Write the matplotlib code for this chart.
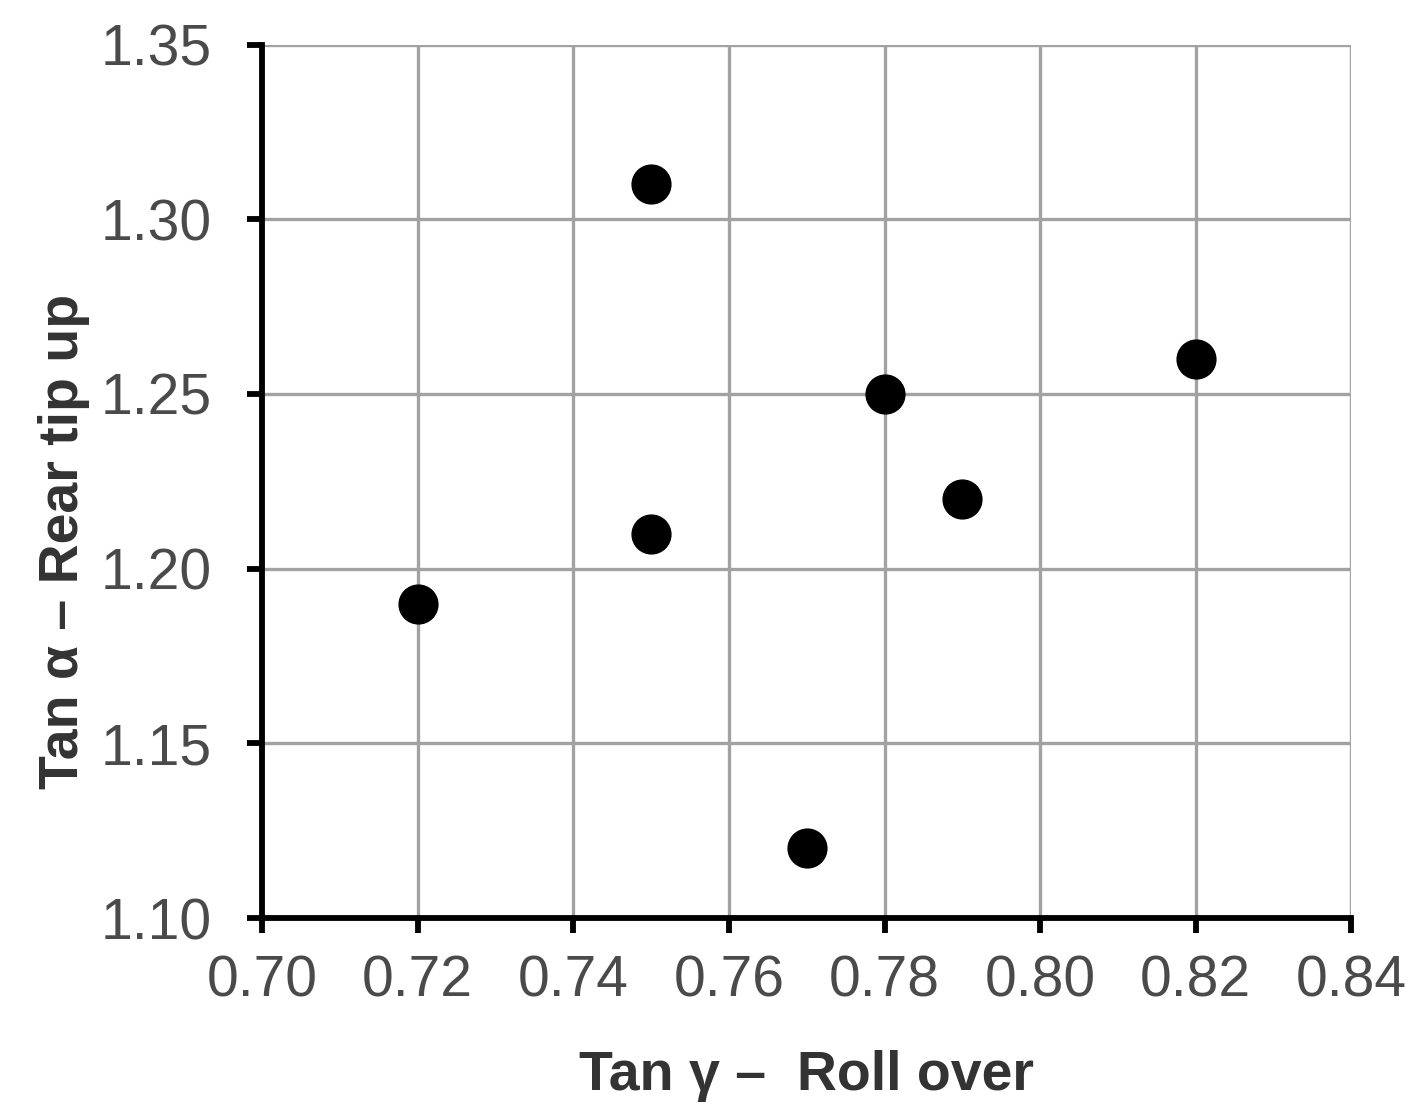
import matplotlib.pyplot as plt
import numpy as np

# data
tan_gamma = [0.72, 0.75, 0.75, 0.77, 0.78, 0.79, 0.82]
tan_alpha = [1.19, 1.31, 1.21, 1.12, 1.25, 1.22, 1.26]
xticks = [0.70, 0.72, 0.74, 0.76, 0.78, 0.80, 0.82, 0.84]
yticks = [1.10, 1.15, 1.20, 1.25, 1.30, 1.35]

plt.rcParams['font.family'] = ['Liberation Sans', 'DejaVu Sans']

fig = plt.figure(figsize=(14.24, 11.19), dpi=100)
ax = fig.add_axes([0.184, 0.1796, 0.765, 0.7806])

ax.scatter(tan_gamma, tan_alpha, s=780, color='black', zorder=3, clip_on=False)

ax.set_xlim(0.70, 0.84)
ax.set_ylim(1.10, 1.35)
ax.set_xticks(xticks)
ax.set_yticks(yticks)
ax.set_xticklabels([f"{v:.2f}" for v in xticks])
ax.set_yticklabels([f"{v:.2f}" for v in yticks])

ax.grid(True, color='#a2a2a2', linewidth=2.4, zorder=0)
ax.set_axisbelow(True)
for s in ['top', 'right']:
	ax.spines[s].set_visible(False)
for s in ['left', 'bottom']:
	ax.spines[s].set_linewidth(4.2)
	ax.spines[s].set_color('black')

ax.tick_params(axis='both', direction='out', length=11, width=4.2, color='black',
			   labelsize=41, labelcolor='#4a4a4a')
ax.tick_params(axis='y', pad=25)
ax.tick_params(axis='x', pad=15)

ax.set_xlabel("Tan γ –  Roll over", fontsize=40, fontweight='bold', color='#333333', labelpad=30)
ax.set_ylabel("Tan α – Rear tip up", fontsize=40, fontweight='bold', color='#333333')
ax.yaxis.set_label_coords(-0.158, 0.431)

fig.savefig("out.png", dpi=100)
